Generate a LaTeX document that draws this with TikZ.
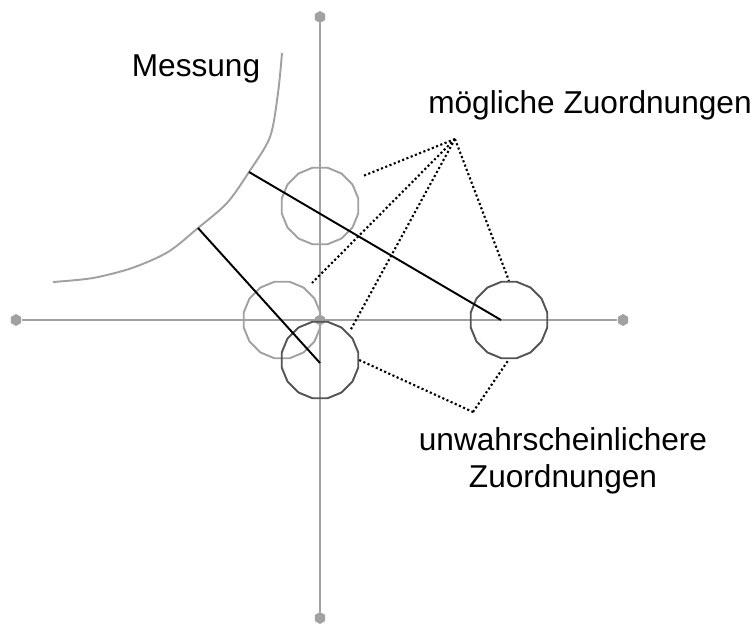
\documentclass[tikz,border=0pt]{standalone}
\usepackage{fontspec}
\setmainfont{Liberation Sans}
\usepackage{xcolor}
\usepackage{tikz}
\usetikzlibrary{shapes.geometric}
\definecolor{hellgrau}{gray}{0.63}
\definecolor{dunkelgrau}{gray}{0.33}

\begin{document}
\begin{tikzpicture}[x=0.02cm,y=-0.02cm,
    font=\fontsize{18pt}{21pt}\selectfont,
    achse/.style={draw=hellgrau,line width=1.1pt},
    endpunkt/.style={regular polygon,regular polygon sides=6,rotate=90,fill=hellgrau,inner sep=0pt,minimum size=0.24cm},
    kreis/.style={regular polygon,regular polygon sides=16,inner sep=0pt,minimum size=1.56cm,line width=1.1pt},
    hellkreis/.style={kreis,draw=hellgrau},
    dunkelkreis/.style={kreis,draw=dunkelgrau},
    zeiger/.style={draw=black,line width=1.1pt},
    zuordnung/.style={draw=black,line width=1.2pt,dash pattern=on 1.2pt off 1.4pt}]
            \useasboundingbox (0,0) rectangle (755,626);
            % Achsen
            \node[endpunkt](xl) at (16,320) {};
            \node[endpunkt](xr) at (623,320) {};
            \node[endpunkt](yo) at (320,17) {};
            \node[endpunkt](yu) at (320,618) {};
            \draw[achse] (xl) -- (xr);
            \draw[achse] (yo) -- (yu);
            \node[endpunkt,minimum size=0.22cm](o) at (320,320) {};
            % Kreise
            \node[hellkreis](k1) at (320,206) {};
            \node[hellkreis](k2) at (282,320) {};
            \node[dunkelkreis](k3) at (320,360) {};
            \node[dunkelkreis](k4) at (509,320) {};
            % Messung
            \draw[hellgrau,line width=1.1pt] plot[smooth,tension=0.5] coordinates {(282,53) (278,93) (270,137) (249,172) (227,203) (198,228) (168,252) (132,268) (93,278) (53,282)};
            \coordinate (m1) at (249,172);
            \coordinate (m2) at (198,228);
            \node[anchor=base](messung) at (196,76) {Messung};
            \draw[zeiger] (m1) -- (501,320);
            \draw[zeiger] (m2) -- (320,363);
            % moegliche Zuordnungen
            \node[anchor=base](moegl) at (590,113) {mögliche Zuordnungen};
            \coordinate (pm) at (455,139);
            \coordinate (e1) at (363,176);
            \coordinate (e2) at (312,283);
            \coordinate (e3) at (350,331);
            \draw[zuordnung] (pm) -- (e1);
            \draw[zuordnung] (pm) -- (e2);
            \draw[zuordnung] (pm) -- (e3);
            \draw[zuordnung] (pm) -- (k4.north);
            % unwahrscheinlichere Zuordnungen
            \node[anchor=base,align=center](unwahr) at (563,487) {unwahrscheinlichere\\Zuordnungen};
            \coordinate (pu) at (473,412);
            \draw[zuordnung] (k3.east) -- (pu);
            \draw[zuordnung] (pu) -- (k4.south);
        \end{tikzpicture}
\end{document}
